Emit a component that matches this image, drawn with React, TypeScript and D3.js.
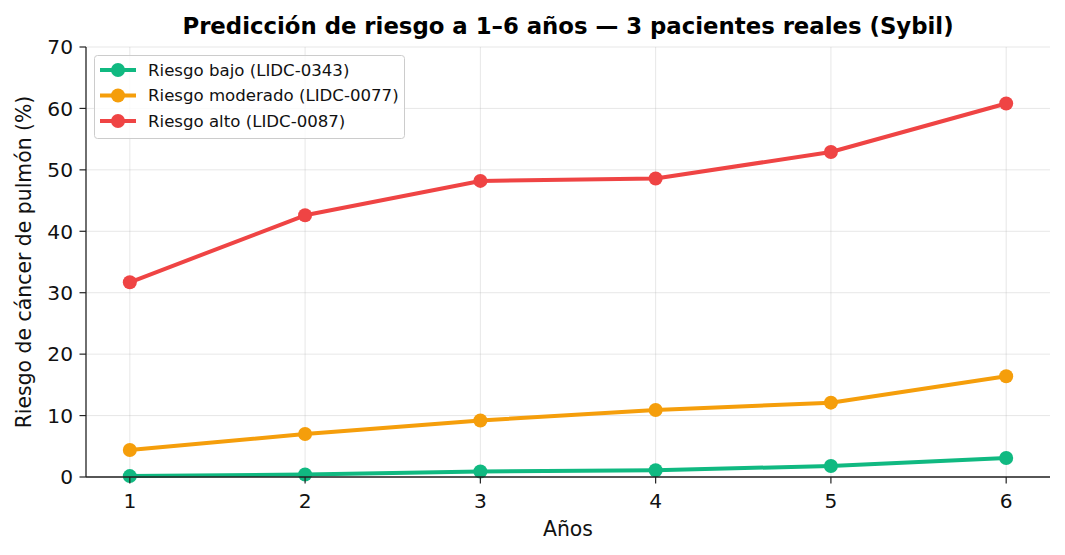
import React from "react";
import * as d3 from "d3";

const years = [1, 2, 3, 4, 5, 6];
const lowRisk = [0.15, 0.4, 0.9, 1.1, 1.8, 3.1];
const modRisk = [4.4, 7.0, 9.2, 10.9, 12.1, 16.4];
const highRisk = [31.7, 42.6, 48.2, 48.6, 52.9, 60.8];
const yTicks = [0, 10, 20, 30, 40, 50, 60, 70];
const seriesNames = ["Riesgo bajo (LIDC-0343)", "Riesgo moderado (LIDC-0077)", "Riesgo alto (LIDC-0087)"];
const seriesColors = ["#10b981", "#f59e0b", "#ef4444"];
const seriesValues = [lowRisk, modRisk, highRisk];

const W = 1065, H = 555;
const L = 86, R = 1050, T = 47, B = 477;
const font = "DejaVu Sans, sans-serif";

export default function App() {
  const x = d3.scaleLinear().domain([0.75, 6.25]).range([L, R]);
  const y = d3.scaleLinear().domain([0, 70]).range([B, T]);
  const line = d3.line<number>().x((_, i) => x(years[i])).y((d) => y(d));
  return (
    <svg width={W} height={H} style={{ position: "absolute", left: 0, top: 0, background: "#fff" }} fontFamily={font}>
      {/* grid */}
      {years.map((t) => (
        <line key={"gx" + t} x1={x(t)} x2={x(t)} y1={T} y2={B} stroke="#b0b0b0" strokeOpacity={0.3} strokeWidth={1} />
      ))}
      {yTicks.map((t) => (
        <line key={"gy" + t} x1={L} x2={R} y1={y(t)} y2={y(t)} stroke="#b0b0b0" strokeOpacity={0.3} strokeWidth={1} />
      ))}
      {/* series */}
      {seriesValues.map((vals, si) => (
        <g key={"s" + si}>
          <path d={line(vals) || ""} fill="none" stroke={seriesColors[si]} strokeWidth={4} strokeLinejoin="round" strokeLinecap="butt" />
          {vals.map((v, i) => (
            <circle key={i} cx={x(years[i])} cy={y(v)} r={7} fill={seriesColors[si]} />
          ))}
        </g>
      ))}
      {/* axes */}
      <line x1={L} x2={L} y1={T} y2={B} stroke="#222" strokeWidth={1.3} />
      <line x1={L} x2={R} y1={B} y2={B} stroke="#222" strokeWidth={1.3} />
      {yTicks.map((t) => (
        <g key={"ty" + t}>
          <line x1={L - 6.5} x2={L} y1={y(t)} y2={y(t)} stroke="#222" strokeWidth={1.2} />
          <text x={L - 13} y={y(t)} dy="0.36em" textAnchor="end" fontSize={20.2} fill="#111">{t}</text>
        </g>
      ))}
      {years.map((t) => (
        <g key={"tx" + t}>
          <line x1={x(t)} x2={x(t)} y1={B} y2={B + 6.5} stroke="#222" strokeWidth={1.2} />
          <text x={x(t)} y={B + 31} textAnchor="middle" fontSize={20.2} fill="#111">{t}</text>
        </g>
      ))}
      <text x={(L + R) / 2} y={536} textAnchor="middle" fontSize={20.4} fill="#111">Años</text>
      <text transform={`translate(31,${(T + B) / 2}) rotate(-90)`} textAnchor="middle" fontSize={20.4} fill="#111">Riesgo de cáncer de pulmón (%)</text>
      <text x={(L + R) / 2} y={34} textAnchor="middle" fontSize={22.8} fontWeight="bold" fill="#000">Predicción de riesgo a 1–6 años — 3 pacientes reales (Sybil)</text>
      {/* legend */}
      <rect x={94.5} y={55.5} width={310} height={83} rx={3} fill="#fff" fillOpacity={0.8} stroke="#ccc" strokeWidth={1} />
      {seriesNames.map((n, i) => (
        <g key={"lg" + i} transform={`translate(0,${70 + i * 25.5})`}>
          <line x1={100} x2={136} y1={0} y2={0} stroke={seriesColors[i]} strokeWidth={4} />
          <circle cx={118} cy={0} r={7} fill={seriesColors[i]} />
          <text x={148} y={0} dy="0.36em" fontSize={16.6} fill="#111">{n}</text>
        </g>
      ))}
    </svg>
  );
}
